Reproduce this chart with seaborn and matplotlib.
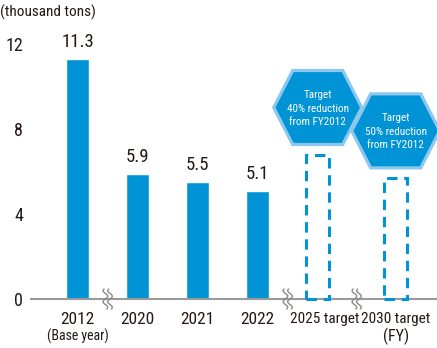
import matplotlib
matplotlib.use("Agg")
import matplotlib.pyplot as plt
from matplotlib.patches import Polygon
import numpy as np
import pandas as pd
import seaborn as sns

# ---- data ----
years = ["2012", "2020", "2021", "2022"]
values = [11.3, 5.9, 5.5, 5.1]
target_labels = ["2025 target", "2030 target"]
target_values = [6.8, 5.7]
target_texts = ["Target\n40% reduction\nfrom FY2012", "Target\n50% reduction\nfrom FY2012"]
yticks = [0, 4, 8, 12]
unit_label = "(thousand tons)"

BLUE = "#0093d6"
EDGE = "#8cc8ee"
TXT = "#231815"
GREY = "#9a9a9a"

sns.set_theme(style="white")
plt.rcParams["font.family"] = ["Roboto Condensed", "DejaVu Sans"]

W, H = 437, 348
fig = plt.figure(figsize=(W / 100, H / 100), dpi=100)

# pixel geometry
x0_px, xstep = 77.7, 60.0       # center of first bar, px per category
y0_px, ystep = 299.0, 21.25     # baseline, px per unit
left_px, right_px = 31, 437
ymax = 13
top_px = y0_px - ymax * ystep
ax = fig.add_axes([left_px / W, 1 - y0_px / H, (right_px - left_px) / W, (y0_px - top_px) / H])

df = pd.DataFrame({"year": years, "value": values})
sns.barplot(data=df, x="year", y="value", color=BLUE, saturation=1, width=0.39, ax=ax)

target_pos = [4.0, 5.3]
px_x = 1 / xstep
px_y = 1 / ystep
for xp, tv, txt in zip(target_pos, target_values, target_texts):
    ax.bar(xp, tv, width=0.39, fill=False, edgecolor=BLUE, linewidth=2.2,
           linestyle=(0, (3.4, 2.2)), zorder=3, clip_on=False)
    cy = tv + 47 * px_y
    hx, hy, ht = 44, 37, 25
    verts = [(xp - hx * px_x, cy), (xp - ht * px_x, cy + hy * px_y), (xp + ht * px_x, cy + hy * px_y),
             (xp + hx * px_x, cy), (xp + ht * px_x, cy - hy * px_y), (xp - ht * px_x, cy - hy * px_y)]
    ax.add_patch(Polygon(verts, closed=True, facecolor=BLUE, edgecolor=EDGE, linewidth=2.3,
                         clip_on=False, zorder=4))
    ax.text(xp, cy - 1 * px_y, txt, ha="center", va="center", color="white", fontsize=8.0,
            linespacing=1.45, zorder=5)

# value labels
for i, v in enumerate(values):
    ax.text(i, v + 8 * px_y, f"{v}", ha="center", va="bottom", fontsize=13.5, color=TXT)

ax.set_xlim((left_px - x0_px) / xstep, (right_px - x0_px) / xstep)
ax.set_ylim(0, ymax)
ax.set_yticks(yticks)
ax.set_yticklabels([str(t) for t in yticks], fontsize=13, color=TXT)
ax.tick_params(axis="y", length=0, pad=5.8)
ax.set_xticks([])
ax.set_xlabel("")
ax.set_ylabel("")
for s in ["left", "right", "top"]:
    ax.spines[s].set_visible(False)
ax.spines["bottom"].set_color(GREY)
ax.spines["bottom"].set_linewidth(1.5)

# x labels
all_pos = list(range(len(years))) + target_pos
all_lab = years + target_labels
ly = -20 * px_y
for p, lab in zip(all_pos, all_lab):
    fs = 12.5 if "target" not in lab else 11
    dx = 7 * px_x if lab == "2025 target" else 0
    ax.text(p + dx, ly, lab, ha="center", va="center", fontsize=fs, color=TXT, clip_on=False)
ax.text(0, -37 * px_y, "(Base year)", ha="center", va="center", fontsize=10, color=TXT, clip_on=False)
ax.text(target_pos[1], -37 * px_y, "(FY)", ha="center", va="center", fontsize=11.5, color=TXT, clip_on=False)

# axis break marks
breaks = [0.5, 3.5, (target_pos[0] + target_pos[1]) / 2]
t = np.linspace(-10, 10, 60)
for b in breaks:
    for off in (-2.3, 2.3):
        xs = b + (off + 2.3 * np.sin(t / 10 * 2 * np.pi * 0.9)) * px_x
        ys = t * px_y
        ax.plot(xs, ys, color="#8a8a8a", lw=1.0, clip_on=False, zorder=5)

fig.text(0.0, 1 - 12 / H, unit_label, ha="left", va="center", fontsize=11, color=TXT)

fig.savefig("out.png", dpi=100)
